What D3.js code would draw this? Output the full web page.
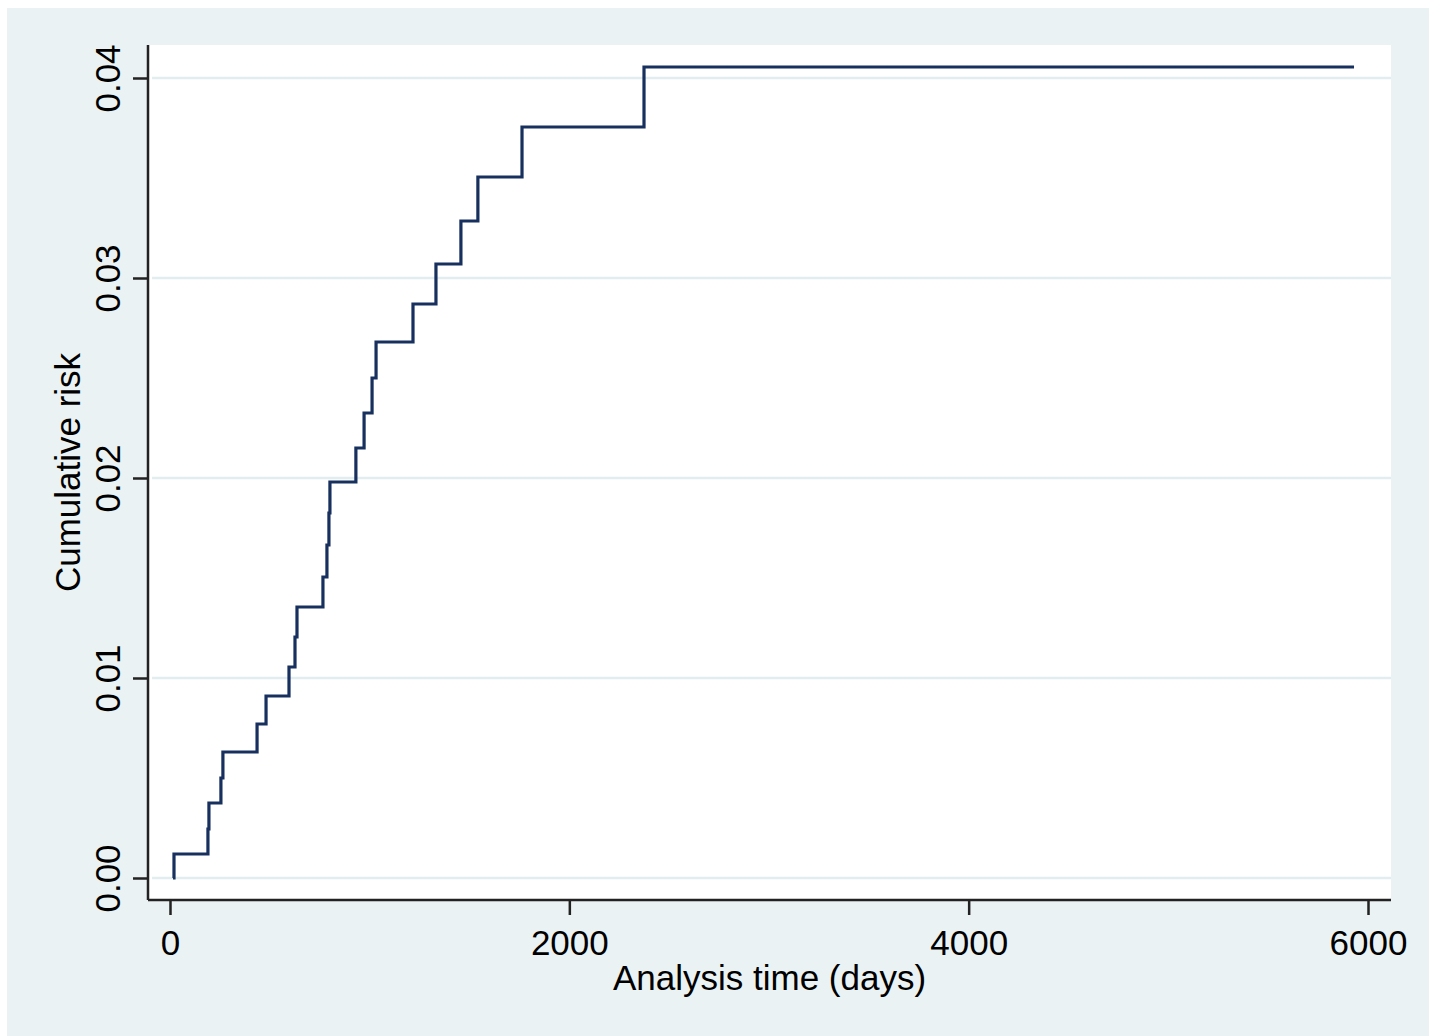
<!DOCTYPE html>
<html>
<head>
<meta charset="utf-8">
<script src="https://cdn.jsdelivr.net/npm/d3@7"></script>
<style>
  body { margin: 0; background: #fff; }
  svg { display: block; font-family: "Liberation Sans", Arial, sans-serif; }
</style>
</head>
<body>
<svg width="1429" height="1036"></svg>
<script>
// step points (days, cumulative risk)
var days = [15, 20, 190, 195, 255, 265, 436, 481, 596, 626, 636, 766, 786, 796, 801,
            931, 972, 1012, 1032, 1217, 1332, 1457, 1542, 1763, 2374, 5930];
var risk = [0, 0.0012, 0.00245, 0.00375, 0.0050, 0.0063, 0.0077, 0.0091, 0.01055, 0.01205,
            0.01355, 0.01505, 0.01665, 0.01825, 0.0198, 0.0215, 0.02325, 0.025, 0.0268,
            0.0287, 0.0307, 0.03285, 0.03505, 0.03755, 0.04055, 0.04055];
var xTicks = [0, 2000, 4000, 6000];
var yTicks = [0, 0.01, 0.02, 0.03, 0.04];

var svg = d3.select("svg");
var plot = {left: 148, right: 1391, top: 45, bottom: 900};

// outer graph region
svg.append("rect")
    .attr("x", 7).attr("y", 8)
    .attr("width", 1429 - 7).attr("height", 1036 - 8)
    .attr("fill", "#eaf2f3");

// plot region
svg.append("rect")
    .attr("x", plot.left).attr("y", plot.top)
    .attr("width", plot.right - plot.left).attr("height", plot.bottom - plot.top)
    .attr("fill", "#fff");

var x = d3.scaleLinear().domain([0, 6000]).range([170, 1368]);
var y = d3.scaleLinear().domain([0, 0.04]).range([878, 78]);

// gridlines
svg.append("g")
    .selectAll("line")
    .data(yTicks)
    .join("line")
    .attr("x1", plot.left + 4).attr("x2", plot.right)
    .attr("y1", d => y(d)).attr("y2", d => y(d))
    .attr("stroke", "#e3edef")
    .attr("stroke-width", 2.5);

// step curve
var pts = days.map((d, i) => [d, risk[i]]);
var line = d3.line()
    .x(d => x(d[0]))
    .y(d => y(d[1]))
    .curve(d3.curveStepAfter);

svg.append("path")
    .datum(pts)
    .attr("d", line)
    .attr("fill", "none")
    .attr("stroke", "#17305e")
    .attr("stroke-width", 3.2);

// axes
var xAxis = d3.axisBottom(x).tickValues(xTicks).tickSize(15).tickFormat(d3.format("d"));
var gx = svg.append("g")
    .attr("transform", "translate(0," + plot.bottom + ")")
    .call(xAxis);
gx.select(".domain").attr("d", "M" + plot.left + ",0H" + plot.right);

var yAxis = d3.axisLeft(y).tickValues(yTicks).tickSize(15).tickFormat(d3.format(".2f"));
var gy = svg.append("g")
    .attr("transform", "translate(" + plot.left + ",0)")
    .call(yAxis);
gy.select(".domain").attr("d", "M0," + plot.top + "V" + plot.bottom);

[gx, gy].forEach(function(g) {
    g.attr("font-family", null).attr("font-size", null);
    g.select(".domain").attr("stroke", "#222").attr("stroke-width", 2.5);
    g.selectAll(".tick line").attr("stroke", "#222").attr("stroke-width", 2.5);
    g.selectAll(".tick text").attr("fill", "#000").style("font-size", "35px");
});

gx.selectAll(".tick text").attr("dy", null).attr("y", 55);

gy.selectAll(".tick text")
    .attr("x", null).attr("dy", null)
    .attr("text-anchor", "middle")
    .attr("transform", "translate(-28,0) rotate(-90)");

// axis titles
svg.append("text")
    .attr("x", (plot.left + plot.right) / 2)
    .attr("y", 990)
    .attr("text-anchor", "middle")
    .style("font-size", "35px")
    .text("Analysis time (days)");

svg.append("text")
    .attr("transform", "translate(80," + (plot.top + plot.bottom) / 2 + ") rotate(-90)")
    .attr("text-anchor", "middle")
    .style("font-size", "35px")
    .text("Cumulative risk");
</script>
</body>
</html>
